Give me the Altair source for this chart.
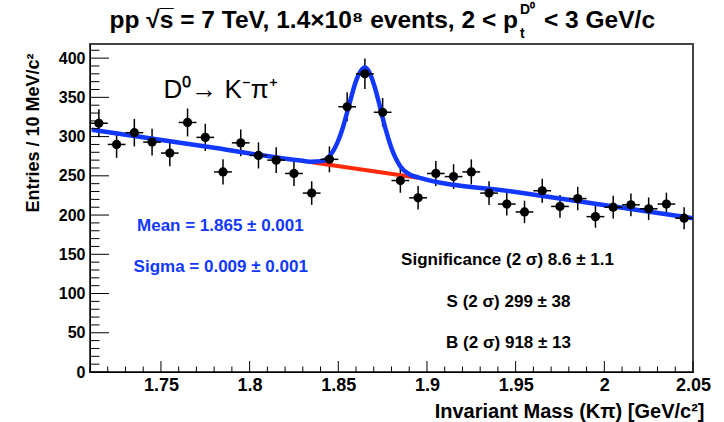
import altair as alt
import pandas as pd

# ---- data ----
bin_centers = [1.715, 1.725, 1.735, 1.745, 1.755, 1.765, 1.775, 1.785, 1.795, 1.805,
               1.815, 1.825, 1.835, 1.845, 1.855, 1.865, 1.875, 1.885, 1.895, 1.905,
               1.915, 1.925, 1.935, 1.945, 1.955, 1.965, 1.975, 1.985, 1.995, 2.005,
               2.015, 2.025, 2.035, 2.045]
counts = [317, 290, 305, 293, 279, 318, 299, 255, 292, 276,
          270, 253, 228, 271, 338, 380, 331, 244, 222, 253,
          249, 255, 228, 214, 204, 231, 211, 221, 198, 210,
          213, 208, 214, 196]
errors = [17.8, 17.0, 17.5, 17.1, 16.7, 17.8, 17.3, 16.0, 17.1, 16.6,
          16.4, 15.9, 15.1, 16.5, 18.4, 19.5, 18.2, 15.6, 14.9, 15.9,
          15.8, 16.0, 15.1, 14.6, 14.3, 15.2, 14.5, 14.9, 14.1, 14.5,
          14.6, 14.4, 14.6, 14.0]

fit_x = [1.711, 1.78, 1.83, 1.835, 1.84, 1.845, 1.85, 1.8525, 1.855, 1.8575,
         1.86, 1.8625, 1.865, 1.8675, 1.87, 1.8725, 1.875, 1.8775, 1.88, 1.885,
         1.89, 1.895, 1.95, 2.05]
fit_y = [308.6, 285.7, 269.1, 268.0, 268.5, 275.0, 295.0, 311.0, 331.0, 352.0,
         371.0, 383.0, 388.0, 382.0, 367.0, 347.0, 324.0, 303.0, 285.0, 262.0,
         252.0, 248.0, 229.3, 196.0]

bkg_x = [1.835, 1.865, 1.895]
bkg_y = [267.4, 257.5, 247.5]

y_major = [0, 50, 100, 150, 200, 250, 300, 350, 400]
y_minor = [10, 20, 30, 40, 60, 70, 80, 90, 110, 120, 130, 140, 160, 170, 180, 190,
           210, 220, 230, 240, 260, 270, 280, 290, 310, 320, 330, 340, 360, 370,
           380, 390, 410]
x_major = [1.75, 1.8, 1.85, 1.9, 1.95, 2.0, 2.05]
x_minor = [1.71, 1.72, 1.73, 1.74, 1.76, 1.77, 1.78, 1.79, 1.81, 1.82, 1.83, 1.84,
           1.86, 1.87, 1.88, 1.89, 1.91, 1.92, 1.93, 1.94, 1.96, 1.97, 1.98, 1.99,
           2.01, 2.02, 2.03, 2.04]

blue_texts = ["Mean = 1.865 \u00b1 0.001", "Sigma = 0.009 \u00b1 0.001"]
blue_tx = [1.7835, 1.7837]
blue_ty = [185.8, 133.7]

black_texts = ["Significance (2 \u03c3) 8.6 \u00b1 1.1", "S (2 \u03c3) 299 \u00b1 38",
               "B (2 \u03c3) 918 \u00b1 13"]
black_tx = [1.9454, 1.946, 1.946]
black_ty = [142.6, 89.3, 37.2]

decay_text = ["D\u2070\u2192 K\u207b\u03c0\u207a"]
decay_tx = [1.7514]
decay_ty = [349.6]

# ---- chart ----
W, H = 603, 328
FONT = "Liberation Sans"
BLUE = "#1238ff"
RED = "#ff2a0a"

xs = alt.Scale(domain=[1.71, 2.05], nice=False, zero=False)
ys = alt.Scale(domain=[0, 418], nice=False, zero=False)

x_axis = alt.Axis(values=x_major, format="~g", ticks=False, grid=False,
                  domainColor="black", domainWidth=1,
                  labelFont=FONT, labelFontSize=18, labelFontWeight="bold",
                  labelColor="black", labelPadding=4, labelFlush=False,
                  labelOverlap=False,
                  title="Invariant Mass (K\u03c0) [GeV/c\u00b2]", titleFont=FONT,
                  titleFontSize=20, titleFontWeight="bold", titleColor="black",
                  titleAnchor="end", titleAlign="right", titleX=W + 11, titleY=45,
                  titleBaseline="alphabetic")
y_axis = alt.Axis(values=y_major, format="d", ticks=False, grid=False,
                  domainColor="black", domainWidth=1,
                  labelFont=FONT, labelFontSize=16, labelFontWeight="bold",
                  labelColor="black", labelPadding=5, labelOverlap=False,
                  labelFlush=False,
                  title="Entries / 10 MeV/c\u00b2", titleFont=FONT,
                  titleFontSize=18, titleFontWeight="bold", titleColor="black",
                  titleAnchor="end", titleAngle=-90, titleAlign="right",
                  titleX=-57, titleY=9, titleBaseline="middle")


def X(field):
    return alt.X(field, type="quantitative", scale=xs, axis=x_axis)


def Y(field):
    return alt.Y(field, type="quantitative", scale=ys, axis=y_axis)


pts = pd.DataFrame({"m": bin_centers, "n": counts, "e": errors})
base = alt.Chart(pts).transform_calculate(
    lo="datum.n - datum.e", hi="datum.n + datum.e",
    xl="datum.m - 0.005", xr="datum.m + 0.005")

vbars = base.mark_rule(color="black", strokeWidth=1.5).encode(
    x=X("m"), y=Y("lo"), y2="hi:Q")
hbars = base.mark_rule(color="black", strokeWidth=1.5).encode(
    x=X("xl"), x2="xr:Q", y=Y("n"))
dots = base.mark_circle(color="black", opacity=1, size=85).encode(
    x=X("m"), y=Y("n"))

fit = alt.Chart(pd.DataFrame({"x": fit_x, "y": fit_y})).mark_line(
    color=BLUE, strokeWidth=4.5, interpolate="monotone").encode(x=X("x"), y=Y("y"))
bkg = alt.Chart(pd.DataFrame({"x": bkg_x, "y": bkg_y})).mark_line(
    color=RED, strokeWidth=4).encode(x=X("x"), y=Y("y"))

ymaj = alt.Chart(pd.DataFrame({"v": y_major})).mark_rule(color="black", strokeWidth=1).encode(
    y=Y("v"), x=alt.value(0), x2=alt.value(19))
ymin = alt.Chart(pd.DataFrame({"v": y_minor})).mark_rule(color="black", strokeWidth=1).encode(
    y=Y("v"), x=alt.value(0), x2=alt.value(9.5))
xmaj = alt.Chart(pd.DataFrame({"v": x_major})).mark_rule(color="black", strokeWidth=1).encode(
    x=X("v"), y=alt.value(H), y2=alt.value(H - 11))
xmin = alt.Chart(pd.DataFrame({"v": x_minor})).mark_rule(color="black", strokeWidth=1).encode(
    x=X("v"), y=alt.value(H), y2=alt.value(H - 5.5))

btxt = alt.Chart(pd.DataFrame({"t": blue_texts, "x": blue_tx, "y": blue_ty})).mark_text(
    font=FONT, fontSize=17, fontWeight="bold", color=BLUE, align="center",
    baseline="middle").encode(x=X("x"), y=Y("y"), text="t:N")
ktxt = alt.Chart(pd.DataFrame({"t": black_texts, "x": black_tx, "y": black_ty})).mark_text(
    font=FONT, fontSize=17, fontWeight="bold", color="black", align="center",
    baseline="middle").encode(x=X("x"), y=Y("y"), text="t:N")
dtxt = alt.Chart(pd.DataFrame({"t": decay_text, "x": decay_tx, "y": decay_ty})).mark_text(
    font=FONT, fontSize=26, color="black", align="left",
    baseline="alphabetic").encode(x=X("x"), y=Y("y"), text="t:N")

# title pieces (pixel positions relative to the plot area)
TS = 24.5
title_main = alt.Chart(pd.DataFrame({"t": ["pp \u221as\u0305 = 7 TeV, 1.4\u00d710\u2078 events, 2 < p"]})).mark_text(
    font=FONT, fontSize=TS, fontWeight="bold", color="black", align="right",
    baseline="alphabetic").encode(x=alt.value(428), y=alt.value(-16), text="t:N")
title_sup = alt.Chart(pd.DataFrame({"t": ["D\u2070"]})).mark_text(
    font=FONT, fontSize=14, fontWeight="bold", color="black", align="left",
    baseline="alphabetic").encode(x=alt.value(430), y=alt.value(-30), text="t:N")
title_sub = alt.Chart(pd.DataFrame({"t": ["t"]})).mark_text(
    font=FONT, fontSize=14, fontWeight="bold", color="black", align="left",
    baseline="alphabetic").encode(x=alt.value(430), y=alt.value(-6), text="t:N")
title_end = alt.Chart(pd.DataFrame({"t": ["< 3 GeV/c"]})).mark_text(
    font=FONT, fontSize=TS, fontWeight="bold", color="black", align="left",
    baseline="alphabetic").encode(x=alt.value(454), y=alt.value(-16), text="t:N")

chart = alt.layer(
    vbars, bkg, fit, hbars, dots, ymaj, ymin, xmaj, xmin, btxt, ktxt, dtxt,
    title_main, title_sup, title_sub, title_end
).properties(
    width=W, height=H,
    autosize=alt.AutoSizeParams(type="none"),
    padding={"left": 90, "top": 44, "right": 31, "bottom": 50},
    background="white"
).configure_view(stroke="#444444", strokeWidth=2)

chart.save("out.html", embed_options={"renderer": "svg", "actions": False})
